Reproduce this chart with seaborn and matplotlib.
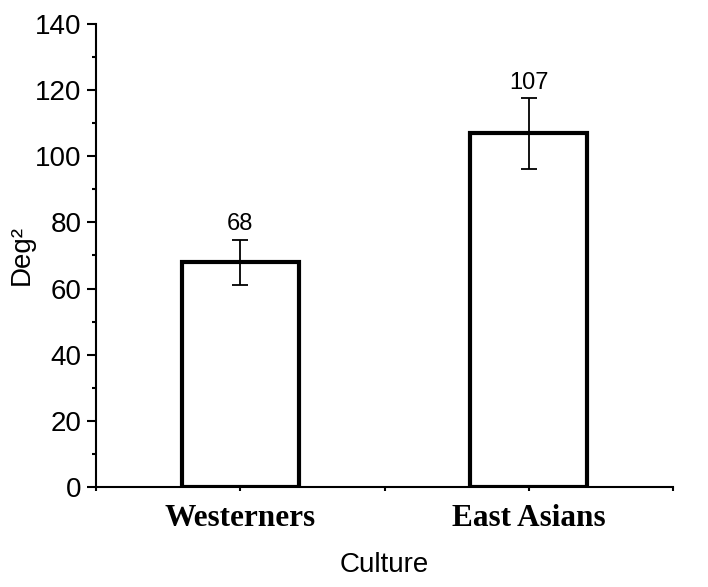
import numpy as np
import pandas as pd
import matplotlib
matplotlib.use("Agg")
import matplotlib.pyplot as plt
import seaborn as sns
from matplotlib.ticker import MultipleLocator, FixedLocator

# データ
cultures = ["Westerners", "East Asians"]
means = [68, 107]
errors = [6.8, 10.7]
value_labels = ["68", "107"]

df = pd.DataFrame({"Culture": cultures, "Deg2": means})

sns.set_style("ticks")
plt.rcParams["font.family"] = ["Liberation Sans", "DejaVu Sans"]
plt.rcParams.update({
    "text.color": "black", "axes.labelcolor": "black", "axes.edgecolor": "black",
    "xtick.color": "black", "ytick.color": "black",
})

fig = plt.figure(figsize=(7.08, 5.87), dpi=100)
ax = fig.add_axes([0.1356, 0.1704, 0.8150, 0.7887])

sns.barplot(
    data=df, x="Culture", y="Deg2", order=cultures,
    color="white", edgecolor="black", linewidth=3,
    width=0.404, errorbar=None, ax=ax,
)

# エラーバー
ax.errorbar(
    range(len(cultures)), means, yerr=errors,
    fmt="none", ecolor="black", elinewidth=1.3, capsize=5.5, capthick=1.3,
)

# 値ラベル
for i, (m, e, lab) in enumerate(zip(means, errors, value_labels)):
    ax.annotate(lab, (i, m + e), xytext=(0, 3), textcoords="offset points",
                ha="center", va="bottom", fontsize=17)

ax.set_xlim(-0.5, 1.5)
ax.set_ylim(0, 140)
ax.yaxis.set_major_locator(MultipleLocator(20))
ax.yaxis.set_minor_locator(MultipleLocator(10))
ax.xaxis.set_minor_locator(FixedLocator([-0.5, 0.5, 1.5]))

for side in ["top", "right"]:
    ax.spines[side].set_visible(False)
for side in ["left", "bottom"]:
    ax.spines[side].set_linewidth(1.5)

ax.tick_params(axis="y", which="major", length=6.5, width=1.5, labelsize=20, pad=4)
ax.tick_params(axis="y", which="minor", length=3, width=1.5)
ax.tick_params(axis="x", which="both", length=3, width=1.5, pad=9)

for t in ax.get_xticklabels():
    t.set_fontfamily("Liberation Serif")
    t.set_fontweight("bold")
    t.set_fontsize(22.5)

ax.set_xlabel("Culture", fontsize=20, labelpad=14)
ax.set_ylabel("Deg²", fontsize=20)
ax.yaxis.set_label_coords(-0.106, 0.5)

fig.savefig("out.png", dpi=100, facecolor="white")
